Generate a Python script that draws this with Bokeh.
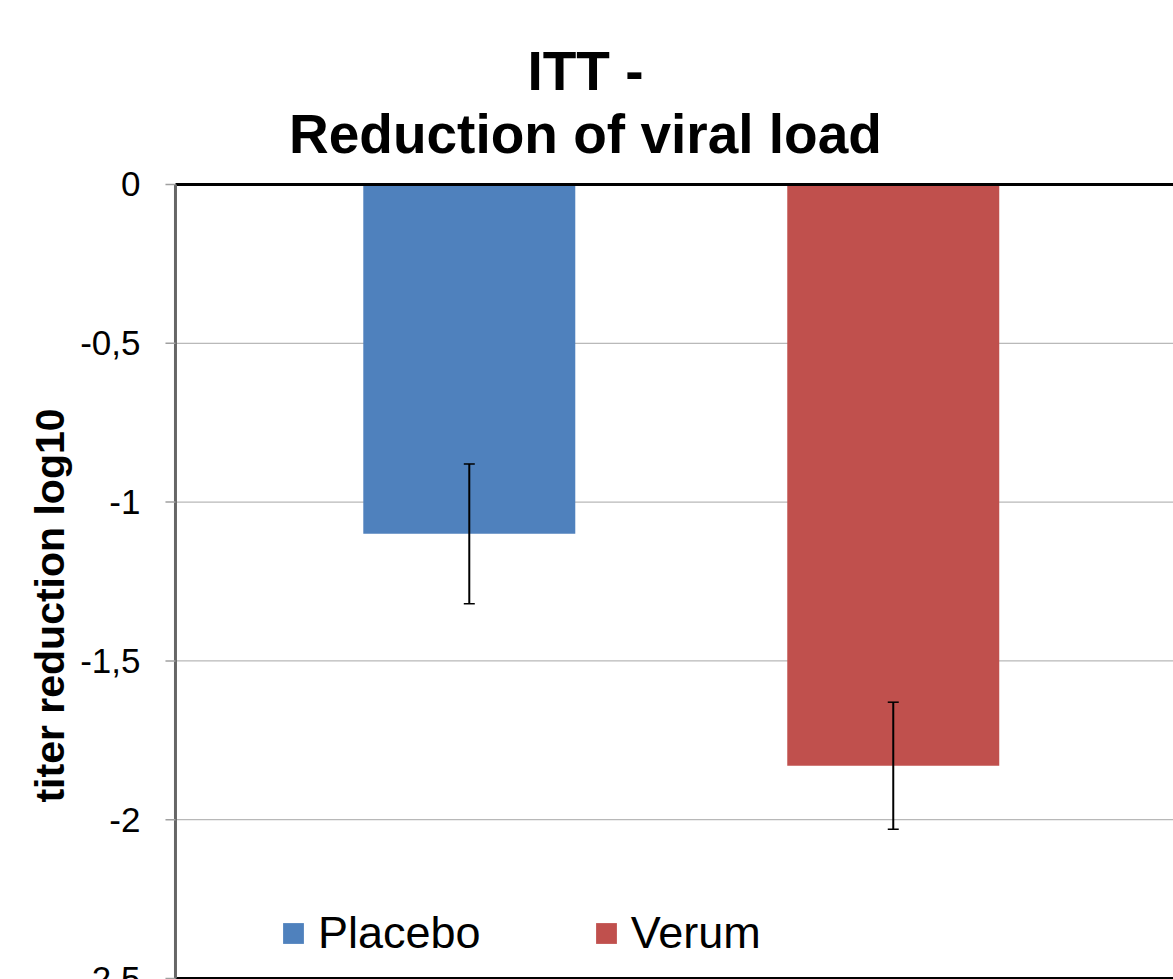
import math
from bokeh.plotting import figure
from bokeh.models import (ColumnDataSource, Range1d, Legend, LegendItem,
                          Whisker, TeeHead)
from bokeh.core.properties import value
from bokeh.embed import file_html
from bokeh.resources import INLINE

# ---- data ----
categories = ["Placebo", "Verum"]
positions = [1, 2]
means = [-1.10, -1.83]
errors = [0.22, 0.20]
colors = ["#4F81BD", "#C0504D"]
tick_values = [0, -0.5, -1, -1.5, -2, -2.5]
tick_labels = ["0", "-0,5", "-1", "-1,5", "-2", "-2,5"]
title_lines = ["ITT -", "Reduction of viral load"]
y_label = "titer reduction log10"

FONT = "Liberation Sans"

# ---- layout constants (data space of the full-canvas frame) ----
X_LEFT, X_RIGHT = 0.307, 2.661          # left / right edge of the plot area
Y_TOP, Y_BOTTOM = 0.0, -2.5             # value-axis extent

src = ColumnDataSource(dict(
    x=positions,
    bottom=means,
    color=colors,
    upper=[m + e for m, e in zip(means, errors)],
    lower=[m - e for m, e in zip(means, errors)],
))

p = figure(width=1173, height=979, output_backend="svg", toolbar_location=None,
           x_range=Range1d(-0.1057, X_RIGHT), y_range=Range1d(-2.5031, 0.5793),
           x_axis_location=None, y_axis_location=None,
           min_border_left=0, min_border_right=0, min_border_top=0, min_border_bottom=0)
p.outline_line_color = None
p.background_fill_color = "white"
p.border_fill_color = "white"
p.xgrid.visible = False
p.ygrid.visible = False

# horizontal grid lines
p.segment(x0=X_LEFT, x1=X_RIGHT, y0=tick_values, y1=tick_values,
          line_color="#A6A6A6", line_width=1)

# bars
r = p.vbar(x="x", top=0, bottom="bottom", width=0.5, fill_color="color",
           line_color=None, source=src)

# error bars
w = Whisker(source=src, base="x", upper="upper", lower="lower", level="overlay",
            line_color="black", line_width=2,
            upper_head=TeeHead(size=11, line_color="black", line_width=1.5),
            lower_head=TeeHead(size=11, line_color="black", line_width=1.5))
p.add_layout(w)

# zero line (top) and bottom border
p.segment(x0=X_LEFT, x1=X_RIGHT, y0=[Y_TOP, Y_BOTTOM], y1=[Y_TOP, Y_BOTTOM],
          line_color="black", line_width=3)

# value axis: line, ticks, labels, title
p.segment(x0=X_LEFT, x1=X_LEFT, y0=Y_TOP, y1=Y_BOTTOM, line_color="#666666", line_width=3)
p.ray(x=X_LEFT, y=tick_values, length=10, length_units="screen", angle=math.pi,
      line_color="#A0A0A0", line_width=1.5)
p.text(x=X_LEFT, y=tick_values, text=tick_labels, x_offset=-35,
       text_align="right", text_baseline="middle",
       text_font=value(FONT), text_font_size="35px", text_color="black")
p.text(x=X_LEFT, y=-1.3256, text=[y_label], angle=math.pi / 2, x_offset=-125,
       text_align="center", text_baseline="middle",
       text_font=value(FONT), text_font_size="41px", text_font_style="bold",
       text_color="black")

# legend
legend = Legend(items=[LegendItem(label=categories[i], renderers=[r], index=i)
                       for i in range(len(categories))],
                orientation="horizontal", location=(280, 20),
                border_line_color=None, background_fill_alpha=0,
                padding=0, margin=0, spacing=112, label_standoff=12,
                glyph_width=26, glyph_height=26,
                label_text_font=FONT, label_text_font_size="45px",
                label_text_color="black")
p.add_layout(legend)

# title (two centred lines)
p.text(x=[1.274, 1.274], y=[0.3558, 0.1574], text=title_lines,
       text_align="center", text_baseline="alphabetic",
       text_font=value(FONT), text_font_size="55px", text_font_style="bold",
       text_color="black")

open("out.html", "w").write(file_html(p, INLINE))
